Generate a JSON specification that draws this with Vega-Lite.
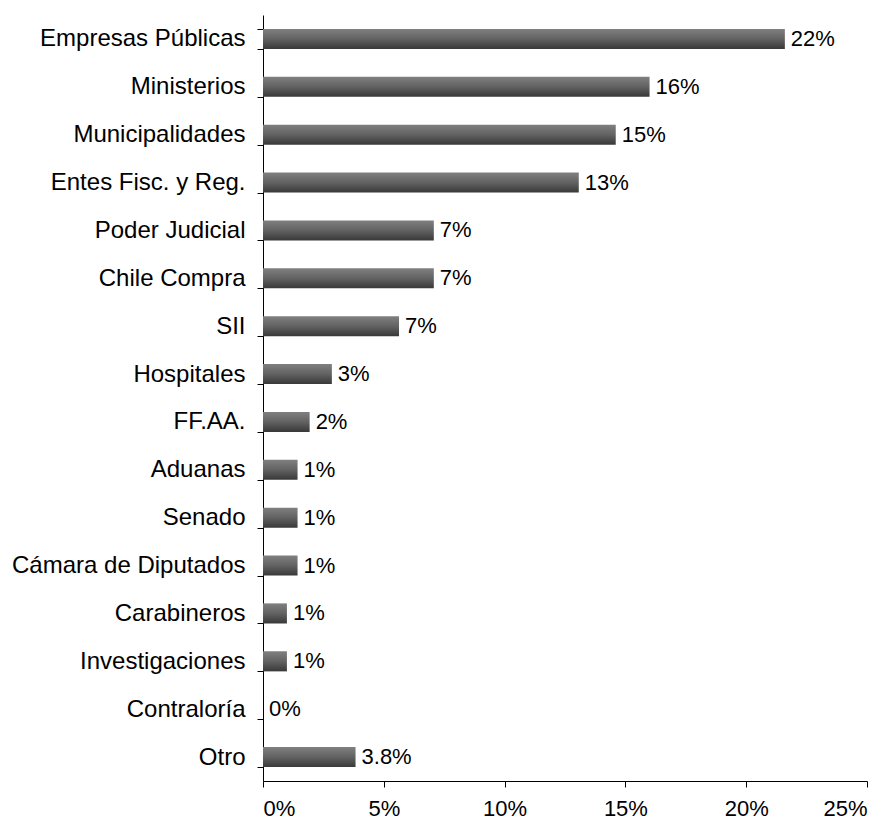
{
  "$schema": "https://vega.github.io/schema/vega-lite/v6.json",
  "autosize": "none",
  "padding": {"left": 263, "top": 15, "right": 23, "bottom": 40},
  "width": 604,
  "height": 766,
  "background": "white",
  "data": {
    "values": [
      {"categoria": "Empresas Públicas", "valor": 21.6, "etiqueta": "22%"},
      {"categoria": "Ministerios", "valor": 16.0, "etiqueta": "16%"},
      {"categoria": "Municipalidades", "valor": 14.6, "etiqueta": "15%"},
      {"categoria": "Entes Fisc. y Reg.", "valor": 13.07, "etiqueta": "13%"},
      {"categoria": "Poder Judicial", "valor": 7.07, "etiqueta": "7%"},
      {"categoria": "Chile Compra", "valor": 7.07, "etiqueta": "7%"},
      {"categoria": "SII", "valor": 5.63, "etiqueta": "7%"},
      {"categoria": "Hospitales", "valor": 2.85, "etiqueta": "3%"},
      {"categoria": "FF.AA.", "valor": 1.93, "etiqueta": "2%"},
      {"categoria": "Aduanas", "valor": 1.43, "etiqueta": "1%"},
      {"categoria": "Senado", "valor": 1.43, "etiqueta": "1%"},
      {"categoria": "Cámara de Diputados", "valor": 1.43, "etiqueta": "1%"},
      {"categoria": "Carabineros", "valor": 0.99, "etiqueta": "1%"},
      {"categoria": "Investigaciones", "valor": 0.99, "etiqueta": "1%"},
      {"categoria": "Contraloría", "valor": 0, "etiqueta": "0%"},
      {"categoria": "Otro", "valor": 3.83, "etiqueta": "3.8%"}
    ]
  },
  "encoding": {
    "y": {
      "field": "categoria",
      "type": "nominal",
      "sort": null,
      "scale": {"paddingInner": 0.58, "paddingOuter": 0.29},
      "axis": {
        "title": null,
        "tickBand": "extent",
        "tickSize": 6,
        "tickColor": "#000000",
        "domainColor": "#000000",
        "labelPadding": 12,
        "labelFont": "Liberation Sans",
        "labelFontSize": 24,
        "labelColor": "#000000",
        "labelLimit": 300
      }
    },
    "x": {
      "field": "valor",
      "type": "quantitative",
      "scale": {"domain": [0, 25], "nice": false},
      "axis": {
        "title": null,
        "values": [0, 5, 10, 15, 20, 25],
        "labelExpr": "datum.value + '%'",
        "grid": false,
        "tickSize": 6,
        "tickColor": "#000000",
        "domainColor": "#000000",
        "labelPadding": 11,
        "labelFont": "Liberation Sans",
        "labelFontSize": 22,
        "labelColor": "#000000"
      }
    }
  },
  "layer": [
    {
      "mark": {
        "type": "bar",
        "color": {
          "gradient": "linear",
          "x1": 0, "y1": 0, "x2": 0, "y2": 1,
          "stops": [
            {"offset": 0, "color": "#808080"},
            {"offset": 0.5, "color": "#626262"},
            {"offset": 1, "color": "#383838"}
          ]
        }
      }
    },
    {
      "mark": {
        "type": "text",
        "align": "left",
        "baseline": "middle",
        "dx": 6,
        "font": "Liberation Sans",
        "fontSize": 22,
        "color": "#000000"
      },
      "encoding": {
        "text": {"field": "etiqueta"}
      }
    }
  ],
  "config": {
    "view": {"stroke": null},
    "axis": {"domainWidth": 1, "tickWidth": 1}
  }
}
